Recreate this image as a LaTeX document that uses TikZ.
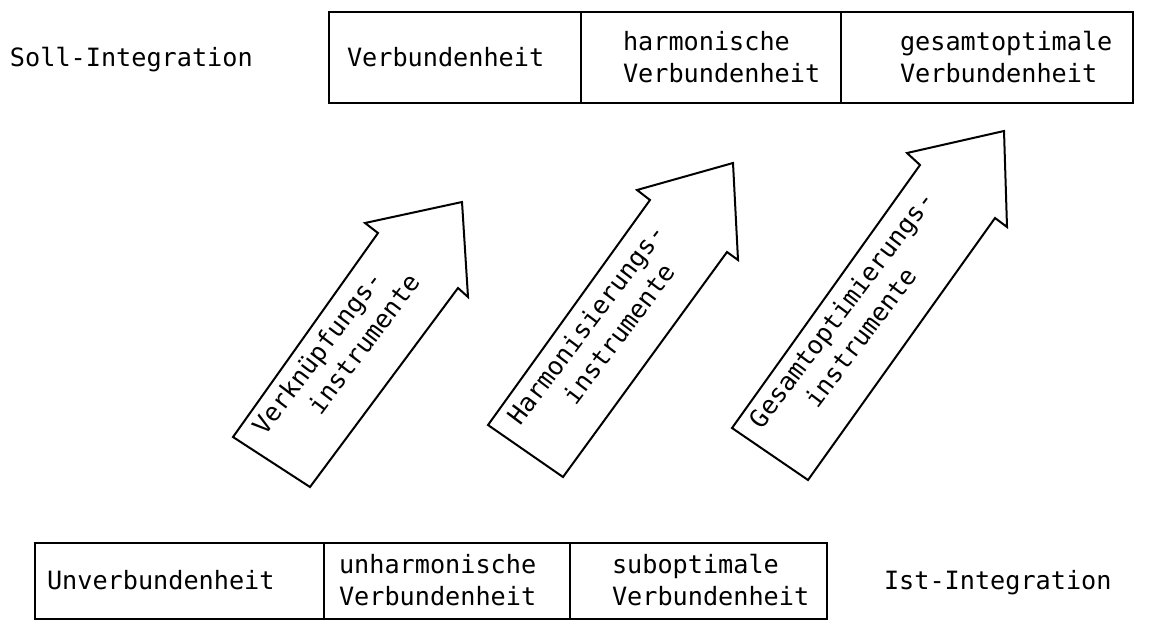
\documentclass[tikz,border=0pt]{standalone}
\usepackage{fontspec}
\newfontfamily\typ{DejaVu Sans Mono}
\begin{document}
\begin{tikzpicture}[x=0.5pt,y=-0.5pt,
  txt/.style={font=\typ\fontsize{12.6}{16}\selectfont, inner sep=0pt, outer sep=0pt, anchor=base west},
  cell/.style={draw, line width=1.2pt, inner sep=0pt, outer sep=0pt, anchor=north west, minimum height=#1},
  cell/.default=45.5pt,
  bigarrow/.style={draw, line width=1pt, line join=miter, fill=white}]
\fill[white] (0,0) rectangle (1170,621);
\useasboundingbox (0,0) rectangle (1170,621);

% Soll (top) row
\node[cell, minimum width=126pt] (s1) at (329,12) {};
\node[cell, minimum width=130pt] (s2) at (581,12) {};
\node[cell, minimum width=146pt] (s3) at (841,12) {};
\node[txt] (soll) at (10,66) {Soll-Integration};
\node[txt] (s1t) at (347,66) {Verbundenheit};
\node[txt] (s2t) at (623,50) {\begin{tabular}[t]{@{}l@{}}harmonische\\Verbundenheit\end{tabular}};
\node[txt] (s3t) at (900,50) {\begin{tabular}[t]{@{}l@{}}gesamtoptimale\\Verbundenheit\end{tabular}};

% Ist (bottom) row
\node[cell=38pt, minimum width=144.5pt] (i1) at (35,543) {};
\node[cell=38pt, minimum width=123pt] (i2) at (324,543) {};
\node[cell=38pt, minimum width=128.5pt] (i3) at (570,543) {};
\node[txt] (i1t) at (47,589.5) {Unverbundenheit};
\node[txt] (i2t) at (339,573.5) {\begin{tabular}[t]{@{}l@{}}unharmonische\\Verbundenheit\end{tabular}};
\node[txt] (i3t) at (612,573.5) {\begin{tabular}[t]{@{}l@{}}suboptimale\\Verbundenheit\end{tabular}};
\node[txt] (ist) at (884,589.5) {Ist-Integration};

% arrows
\draw[bigarrow] (233,437) -- (310,487) -- (458,288) -- (468,297) -- (462,202) -- (365,223) -- (378,233) -- cycle;
\draw[bigarrow] (488,425) -- (563,477) -- (727,252) -- (738,260) -- (733,163) -- (637,190) -- (650,200) -- cycle;
\draw[bigarrow] (732,428) -- (808,480) -- (995,218) -- (1007,227) -- (1004,131) -- (907,153) -- (920,165) -- cycle;

\node[txt, rotate=53] (a1t) at (265,436.7) {\begin{tabular}[t]{@{}l@{}}Verknüpfungs-\\\hspace*{25pt}instrumente\end{tabular}};
\node[txt, rotate=53] (a2t) at (520,426.7) {\begin{tabular}[t]{@{}l@{}}Harmonisierungs-\\\hspace*{25pt}instrumente\end{tabular}};
\node[txt, rotate=53] (a3t) at (761.7,430) {\begin{tabular}[t]{@{}l@{}}Gesamtoptimierungs-\\\hspace*{25pt}instrumente\end{tabular}};
\end{tikzpicture}
\end{document}
